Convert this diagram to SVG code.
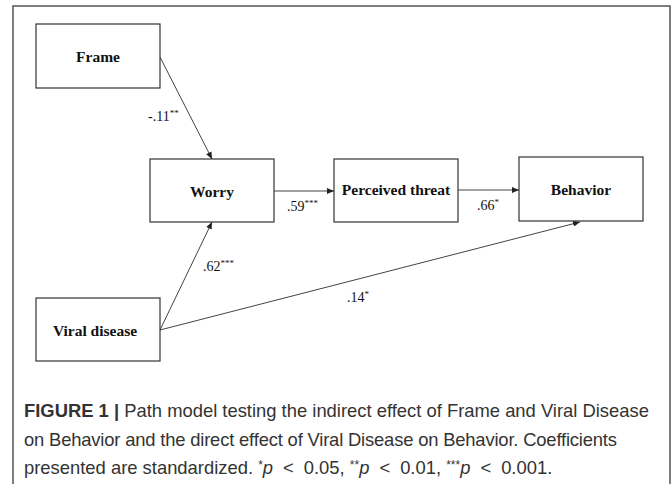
<svg xmlns="http://www.w3.org/2000/svg" width="672" height="484" viewBox="0 0 672 484">
<defs>
<marker id="ah" markerWidth="7" markerHeight="6" refX="7" refY="3" orient="auto" markerUnits="userSpaceOnUse">
<path d="M0,0 L7,3 L0,6 Z" fill="#222"/>
</marker>
<style>
.box{fill:#fff;stroke:#333;stroke-width:1.2}
.lbl{font-family:"Liberation Serif","Times New Roman",serif;font-weight:bold;font-size:15.5px;fill:#111;text-anchor:middle}
.coef{font-family:"Liberation Serif","Times New Roman",serif;font-size:14px;fill:#111}
.sup{font-size:9px}
.edge{stroke:#444;stroke-width:1;fill:none;marker-end:url(#ah)}
.cap{font-family:"Liberation Sans",Arial,sans-serif;font-size:18.4px;fill:#333}
</style>
</defs>
<rect x="13" y="6" width="657" height="500" fill="#fff" stroke="#555" stroke-width="1.5"/>
<g id="connectors">
<line class="edge" x1="160" y1="57" x2="212" y2="159"/>
<line class="edge" x1="160" y1="330" x2="212" y2="222"/>
<line class="edge" x1="274" y1="191" x2="334" y2="191"/>
<line class="edge" x1="458" y1="190" x2="519" y2="190"/>
<line class="edge" x1="160" y1="330" x2="580" y2="222"/>
<text class="coef" x="148" y="121">-.11<tspan class="sup" dy="-5">**</tspan></text>
<text class="coef" x="287" y="211">.59<tspan class="sup" dy="-5">***</tspan></text>
<text class="coef" x="477" y="210">.66<tspan class="sup" dy="-5">*</tspan></text>
<text class="coef" x="203" y="271">.62<tspan class="sup" dy="-5">***</tspan></text>
<text class="coef" x="347" y="302">.14<tspan class="sup" dy="-5">*</tspan></text>
</g>
<g id="frame"><rect class="box" x="36" y="24" width="124" height="64"/><text class="lbl" x="98" y="62" font-size="16">Frame</text></g>
<g id="worry"><rect class="box" x="150" y="159" width="124" height="63"/><text class="lbl" x="212" y="197">Worry</text></g>
<g id="threat"><rect class="box" x="334" y="159" width="124" height="63"/><text class="lbl" x="396" y="195" font-size="14.5">Perceived threat</text></g>
<g id="behavior"><rect class="box" x="519" y="157" width="124" height="64"/><text class="lbl" x="581" y="195">Behavior</text></g>
<g id="viral"><rect class="box" x="36" y="298" width="124" height="63"/><text class="lbl" x="95" y="336" font-size="16.8">Viral disease</text></g>
<g id="caption">
<text class="cap" x="24" y="417"><tspan font-weight="bold">FIGURE 1 |</tspan> Path model testing the indirect effect of Frame and Viral Disease</text>
<text class="cap" x="24" y="446" textLength="593" lengthAdjust="spacing">on Behavior and the direct effect of Viral Disease on Behavior. Coefficients</text>
<text class="cap" x="24" y="474">presented are standardized. <tspan font-size="12" dy="-5">*</tspan><tspan font-style="italic" dy="5">p</tspan><tspan dx="10">&lt;</tspan><tspan dx="10">0.05, </tspan><tspan font-size="12" dy="-5">**</tspan><tspan font-style="italic" dy="5">p</tspan><tspan dx="10">&lt;</tspan><tspan dx="10">0.01, </tspan><tspan font-size="12" dy="-5">***</tspan><tspan font-style="italic" dy="5">p</tspan><tspan dx="10">&lt;</tspan><tspan dx="10">0.001.</tspan></text>
</g>
</svg>
